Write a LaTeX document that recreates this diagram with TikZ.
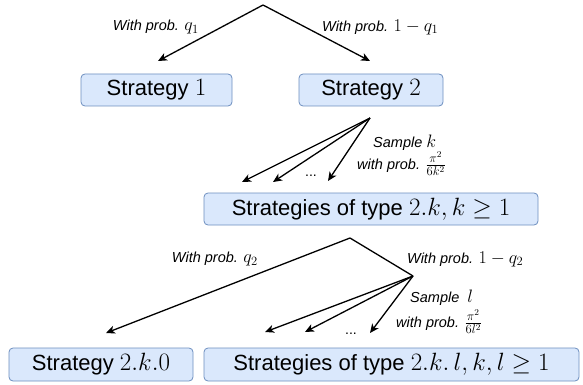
\RequirePackage{fix-cm}
\documentclass[tikz,border=0pt]{standalone}
\usepackage[no-math]{fontspec}
\setmainfont{Liberation Sans}
\usetikzlibrary{arrows.meta}
\definecolor{boxfill}{HTML}{DAE8FC}
\definecolor{boxline}{HTML}{6C8EBF}
% math inside boxes and labels is set a little larger than the text
\newcommand{\boxmath}[1]{{\fontsize{25}{27}\selectfont$#1$}}
\newcommand{\lblmath}[1]{{\fontsize{18}{20}\selectfont$#1$}}
\tikzset{
  stratbox/.style={draw=boxline, fill=boxfill, line width=0.8pt, rounded corners=4pt,
    inner sep=0pt, minimum height=32pt, font=\fontsize{22}{25}\selectfont},
  probtext/.style={inner sep=0pt, font=\itshape\fontsize{14.5}{16}\selectfont},
  branch/.style={line width=1.3pt, line join=round},
  arrowline/.style={branch, -{Stealth[length=9pt,width=8pt,inset=2.5pt]}},
  dotstext/.style={inner sep=0pt, anchor=base, font=\fontsize{14}{16}\selectfont}
}
\begin{document}
\begin{tikzpicture}[x=1pt, y=-1pt]
\useasboundingbox (0,0) rectangle (583,385);

% first choice
\coordinate (r0) at (263,5);
\coordinate (e1) at (158,61);
\coordinate (e2) at (370,61);
\node[stratbox, minimum width=151pt] (s1) at (156.5,90) {Strategy \boxmath{1}};
\node[stratbox, minimum width=144pt] (s2) at (371,90) {Strategy \boxmath{2}};
\draw[arrowline] (r0) -- (e1);
\draw[arrowline] (r0) -- (e2);
\node[probtext, anchor=east] (lq1) at (199,27) {With prob. \lblmath{q_1}};
\node[probtext, anchor=west] (lq1c) at (322,27) {With prob. \lblmath{1-q_1}};

% sampling k
\coordinate (r1) at (370,118);
\coordinate (k1) at (242,182);
\coordinate (k2) at (273,182);
\coordinate (k3) at (328,181);
\draw[arrowline] (r1) -- (k1);
\draw[arrowline] (r1) -- (k2);
\draw[arrowline] (r1) -- (k3);
\node[dotstext] (kdots) at (311,176) {...};
\node[probtext, anchor=west] (ks) at (373,143) {Sample \lblmath{k}};
\node[probtext, anchor=west] (kp) at (357,164) {with prob. \lblmath{\frac{\pi^2}{6k^2}}};
\node[stratbox, minimum width=334pt] (s2k) at (371,209) {Strategies of type \boxmath{2.k, k\geq 1}};

% second choice
\coordinate (r2) at (350,238);
\coordinate (b2) at (413,276);
\coordinate (e0) at (106,333);
\coordinate (l1) at (265,332);
\coordinate (l2) at (305,332);
\coordinate (l3) at (370,333);
\draw[branch] (r2) -- (b2);
\draw[arrowline] (r2) -- (e0);
\draw[arrowline] (b2) -- (l1);
\draw[arrowline] (b2) -- (l2);
\draw[arrowline] (b2) -- (l3);
\node[dotstext] (ldots) at (351,334) {...};
\node[probtext, anchor=east] (lq2) at (258,259) {With prob. \lblmath{q_2}};
\node[probtext, anchor=west] (lq2c) at (407,259) {With prob. \lblmath{1-q_2}};
\node[probtext, anchor=west] (ls) at (410,298) {Sample\ \ \lblmath{l}};
\node[probtext, anchor=west] (lp) at (396,322) {with prob. \lblmath{\frac{\pi^2}{6l^2}}};

\node[stratbox, minimum width=184pt, minimum height=33pt] (s2k0) at (101,364.5) {Strategy \boxmath{2.k.0}};
\node[stratbox, minimum width=375pt, minimum height=33pt] (s2kl) at (391.5,364.5) {Strategies of type \boxmath{2.k.\,l, k, l\geq 1}};
\end{tikzpicture}
\end{document}
